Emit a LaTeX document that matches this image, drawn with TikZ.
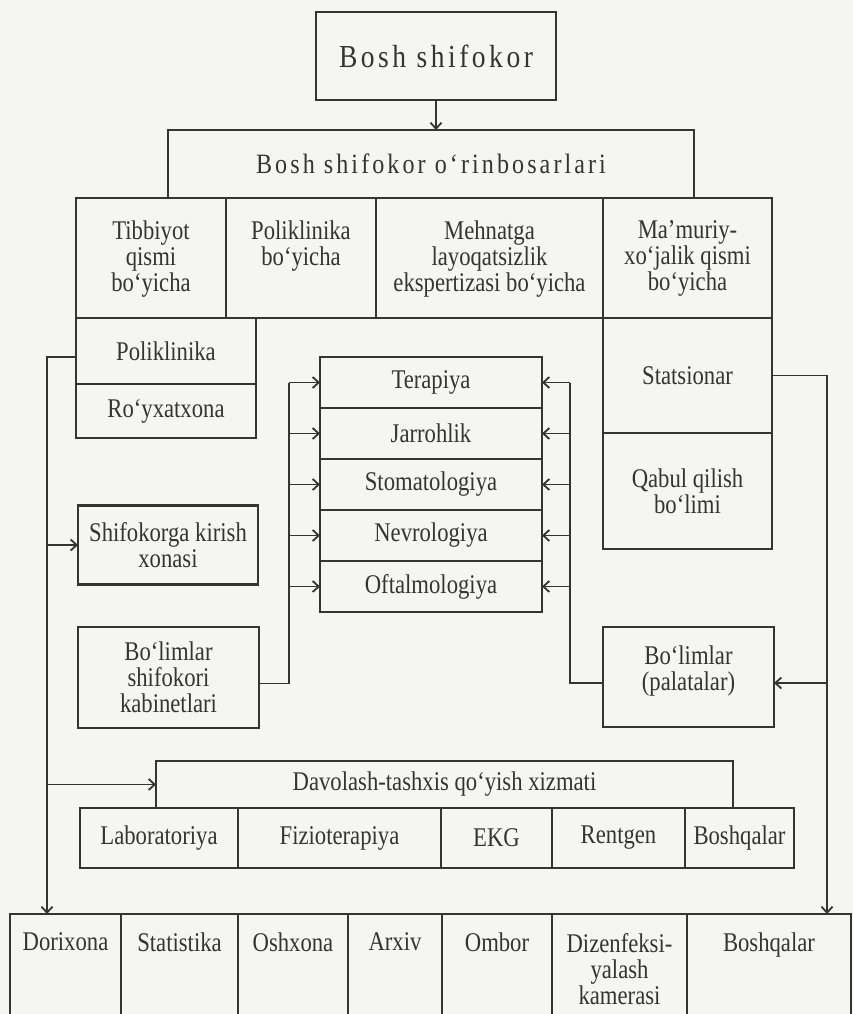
\documentclass[tikz,border=0pt]{standalone}
\usepackage{fontspec}
\setmainfont{Liberation Serif}
\newfontfamily\chartfont[FakeStretch=0.84]{Liberation Serif}
\newfontfamily\widefont[FakeStretch=0.86,LetterSpace=11]{Liberation Serif}
\usetikzlibrary{positioning,arrows.meta}
\definecolor{inkgray}{RGB}{52,52,52}
\definecolor{paper}{RGB}{245,245,243}
\newcommand{\topbox}[4][22pt]{\parbox[c][#3][t]{#2}{\centering\vspace*{#1}#4}}

\begin{document}
\begin{tikzpicture}[x=1pt,y=-1pt,>={Straight Barb[length=6pt,width=11pt]},
  box node/.style={draw=inkgray,line width=2.4pt,inner sep=0pt,outer sep=0pt,align=center,text=inkgray,font=\chartfont\fontsize{27}{26}\selectfont},
  link/.style={draw=inkgray,line width=1.8pt}]
  \useasboundingbox (0,0) rectangle (853,1014);
  \fill[paper] (0,0) rectangle (853,1014);

  \node[box node,minimum width=240,minimum height=88,font=\widefont\fontsize{32}{32}\selectfont] (chief) at (436,56) {Bosh shifokor};
  \node[box node,minimum width=526,minimum height=68,font=\widefont\fontsize{28}{28}\selectfont] (dep) at (431,164) {Bosh shifokor o‘rinbosarlari};

  \node[box node,anchor=north west] (tib) at (76,198) {\topbox[23pt]{150pt}{120pt}{Tibbiyot\\ qismi\\ bo‘yicha}};
  \node[box node,right=0pt of tib] (pol) {\topbox[23pt]{150pt}{120pt}{Poliklinika\\ bo‘yicha}};
  \node[box node,right=0pt of pol] (meh) {\topbox[23pt]{227pt}{120pt}{Mehnatga\\ layoqatsizlik\\ ekspertizasi bo‘yicha}};
  \node[box node,right=0pt of meh] (mam) {\topbox[23pt]{169pt}{120pt}{Ma’muriy-\\ xo‘jalik qismi\\ bo‘yicha}};

  \node[box node,minimum width=180,minimum height=66,anchor=north west] (polk) at (tib.south west) {Poliklinika};
  \node[box node,minimum width=180,minimum height=54,below=0pt of polk] (royx) {Ro‘yxatxona};
  \node[box node,minimum width=180,minimum height=79] (shif) at (168,545) {Shifokorga kirish\\ xonasi};
  \node[box node,minimum width=181,minimum height=101] (kab) at (168.5,677.5) {Bo‘limlar\\ shifokori\\ kabinetlari};

  \node[box node,minimum width=169,minimum height=115,anchor=north west] (stat) at (mam.south west) {Statsionar};
  \node[box node,minimum width=169,minimum height=116,below=0pt of stat] (qabul) {Qabul qilish\\ bo‘limi};
  \node[box node,anchor=north west] (pal) at (603,627) {\topbox[19pt]{171pt}{100pt}{Bo‘limlar\\ (palatalar)}};

  \node[box node,minimum width=222,minimum height=51,anchor=north west] (ter) at (320,357) {Terapiya};
  \node[box node,minimum width=222,minimum height=51,below=0pt of ter] (jar) {Jarrohlik};
  \node[box node,minimum width=222,minimum height=51,below=0pt of jar] (stom) {Stomatologiya};
  \node[box node,minimum width=222,minimum height=51,below=0pt of stom] (nev) {Nevrologiya};
  \node[box node,minimum width=222,minimum height=51,below=0pt of nev] (oft) {Oftalmologiya};

  \node[box node,minimum width=577,minimum height=47] (dav) at (444.5,784.5) {Davolash-tashxis qo‘yish xizmati};
  \node[box node,minimum width=158,minimum height=60,anchor=north west] (lab) at (80,808) {Laboratoriya};
  \node[box node,minimum width=203,minimum height=60,right=0pt of lab] (fiz) {Fizioterapiya};
  \node[box node,minimum width=111,minimum height=60,right=0pt of fiz] (ekg) {EKG};
  \node[box node,minimum width=133,minimum height=60,right=0pt of ekg] (rent) {Rentgen};
  \node[box node,minimum width=109,minimum height=60,right=0pt of rent] (bq1) {Boshqalar};

  \node[box node,anchor=north west] (dor) at (10,914) {\topbox[19pt]{111pt}{104pt}{Dorixona}};
  \node[box node,right=0pt of dor] (stt) {\topbox[19pt]{117pt}{104pt}{Statistika}};
  \node[box node,right=0pt of stt] (osh) {\topbox[19pt]{110pt}{104pt}{Oshxona}};
  \node[box node,right=0pt of osh] (arx) {\topbox[19pt]{94pt}{104pt}{Arxiv}};
  \node[box node,right=0pt of arx] (omb) {\topbox[19pt]{110pt}{104pt}{Ombor}};
  \node[box node,right=0pt of omb] (diz) {\topbox[19pt]{135pt}{104pt}{Dizenfeksi-\\ yalash\\ kamerasi}};
  \node[box node,right=0pt of diz] (bq2) {\topbox[19pt]{164pt}{104pt}{Boshqalar}};

  \coordinate (lbus) at (47,0);
  \coordinate (mbus) at (289,0);
  \coordinate (rbus) at (570,0);
  \coordinate (rlong) at (827,0);
  \coordinate (palin) at ([yshift=-6pt]pal.east);

  \draw[link,->] (chief.south) -- (chief.south |- dep.north);
  \draw[link,->] ([yshift=-6pt]polk.west) -| (lbus |- dor.north);
  \draw[link,->] (lbus |- shif.west) -- (shif.west);
  \draw[link,->] (lbus |- dav.west) -- (dav.west);
  \draw[link] ([yshift=-6pt]kab.east) -| (mbus |- ter.west);
  \draw[link] ([yshift=-6pt]pal.west) -| (rbus |- ter.east);
  \foreach \dept in {ter,jar,stom,nev,oft}{
    \draw[link,->] (mbus |- \dept.west) -- (\dept.west);
    \draw[link,->] (rbus |- \dept.east) -- (\dept.east);
  }
  \draw[link,->] (stat.east) -| (rlong |- bq2.north);
  \draw[link,->] (rlong |- palin) -- (palin);
\end{tikzpicture}
\end{document}
